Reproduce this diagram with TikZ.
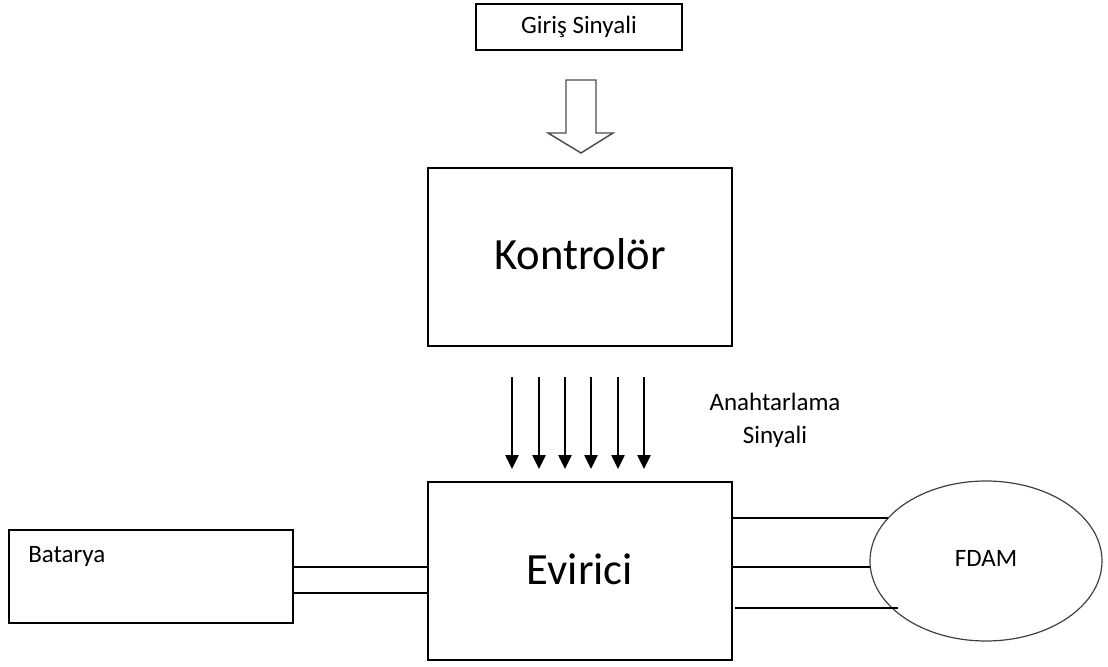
\documentclass[tikz,border=0pt]{standalone}
\usepackage{fontspec}
\setmainfont{Carlito}
\usetikzlibrary{shapes.geometric,arrows.meta,calc}
\begin{document}
\begin{tikzpicture}[x=0.75pt,y=-0.75pt,
  blk/.style={draw=black,line width=1.1pt,inner sep=0pt},
  smalltext/.style={font=\fontsize{18.75pt}{24.75pt}\selectfont},
  bigtext/.style={font=\fontsize{33.5pt}{40pt}\selectfont},
  wire/.style={draw=black,line width=1.1pt},
  sig/.style={draw=black,line width=1.1pt,-{Triangle[width=10pt,length=10.5pt]}},
  bigarrow/.style={draw=black!70,line width=1.1pt,line join=miter,fill=white}]
\useasboundingbox (0,0) rectangle (1108,667);

\node[blk,smalltext,minimum width=154.5pt,minimum height=34.5pt] (giris) at (579,27) {Giriş Sinyali};
\node[blk,bigtext,minimum width=228pt,minimum height=133.5pt] (kontrol) at (580,257) {\raisebox{4pt}{Kontrolör}};
\node[blk,bigtext,minimum width=228pt,minimum height=133.5pt] (evirici) at (580,571) {\raisebox{3.5pt}{Evirici}};
\node[blk,minimum width=213pt,minimum height=69.75pt] (batarya) at (151,576.5) {};
\node[smalltext,anchor=base west,inner sep=0pt] (batlabel) at (28,562) {Batarya};
\node[draw=black!75,line width=0.9pt,ellipse,minimum width=174pt,minimum height=120pt,inner sep=0pt,smalltext] (fdam) at (986,561) {\raisebox{4pt}{FDAM}};
\node[smalltext,align=center,inner sep=0pt] (anah) at (775,420) {Anahtarlama\\Sinyali};

% block arrow from Giris to Kontrolor
\draw[bigarrow] (566,80) -- (596,80) -- (596,133) -- (613,133) -- (581,153) -- (548,133) -- (566,133) -- cycle;

% switching signals
\foreach \x in {512,539,565,591,618,644}{
  \coordinate (s\x) at (\x,377);
  \coordinate (e\x) at (\x,469);
  \draw[sig] (s\x) -- (e\x);
}

% battery to inverter
\draw[wire] (batarya.east |- 0,567) -- (evirici.west |- 0,567);
\draw[wire] (batarya.east |- 0,593) -- (evirici.west |- 0,593);

% inverter to motor
\coordinate (m1) at (888,518);
\coordinate (m2) at (870,567);
\draw[wire] (evirici.east |- m1) -- (m1);
\draw[wire] (evirici.east |- m2) -- (m2);
\coordinate (w3) at (735,608);
\coordinate (w3end) at (898,608);
\draw[wire] (w3) -- (w3end);
\end{tikzpicture}
\end{document}
